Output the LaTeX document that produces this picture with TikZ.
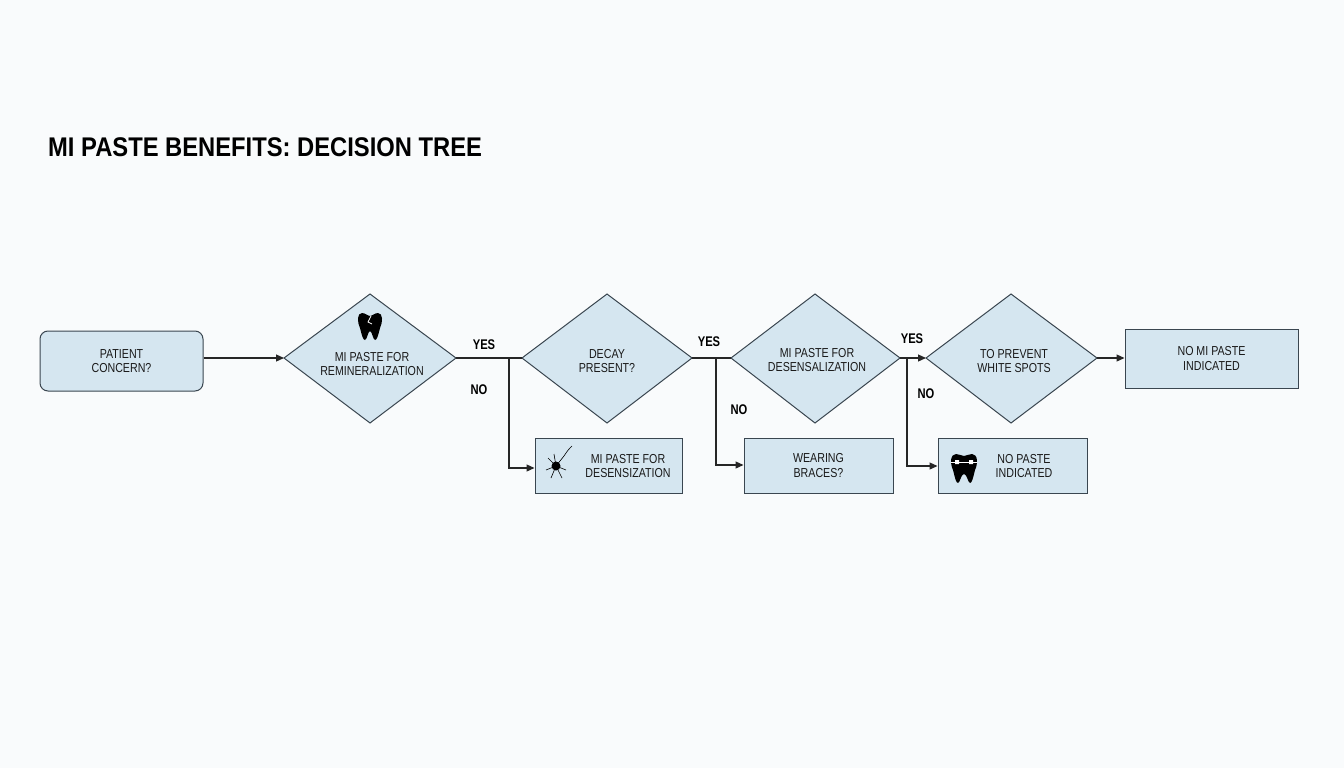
\documentclass[tikz,border=0pt]{standalone}
\usepackage{fontspec}
\setmainfont{Liberation Sans}
\usetikzlibrary{shapes.geometric,arrows.meta}
\definecolor{fillb}{HTML}{D5E6F0}
\definecolor{edge}{HTML}{3A4650}
\definecolor{bg}{HTML}{F9FBFC}
\begin{document}
\begin{tikzpicture}[x=1pt,y=-1pt,
  lbl/.style={font=\fontsize{13}{14.5}\selectfont, align=center, text=black!90, xscale=0.82},
  boxn/.style={draw=edge, fill=fillb, line width=1pt, minimum width=#1, minimum height=55pt, inner sep=0pt},
  dia/.style={draw=edge, fill=fillb, line width=1pt},
  yn/.style={font=\fontsize{14}{14}\selectfont\bfseries, xscale=0.8},
  conn/.style={draw=black!85, line width=1.2pt},
  arr/.style={conn, -{Triangle[length=8pt,width=7pt]}}]
\useasboundingbox[fill=bg] (0,0) rectangle (1344,768);
\node[anchor=west, font=\fontsize{27}{27}\selectfont\bfseries, xscale=0.88, inner sep=0pt] (title) at (48,147) {MI PASTE BENEFITS: DECISION TREE};
% nodes
\node[boxn=163pt, minimum height=60pt, rounded corners=8pt] (p) at (121.5,361) {};
\node[lbl] at (p) {PATIENT\\CONCERN?};
\path[dia] (284,358) -- (370,294) -- (456,358) -- (370,423) -- cycle;
\coordinate (d1w) at (284,358); \coordinate (d1e) at (456,358);
\node[lbl] (t1) at (372,364) {MI PASTE FOR\\REMINERALIZATION};
\path[dia] (522,358) -- (607,294) -- (692,358) -- (607,423) -- cycle;
\coordinate (d2w) at (522,358); \coordinate (d2e) at (692,358);
\node[lbl] (t2) at (607,361) {DECAY\\PRESENT?};
\path[dia] (731,358) -- (815,294) -- (900,358) -- (815,423) -- cycle;
\coordinate (d3w) at (731,358); \coordinate (d3e) at (900,358);
\node[lbl] (t3) at (817,360) {MI PASTE FOR\\DESENSALIZATION};
\path[dia] (926,358) -- (1011,294) -- (1097,358) -- (1011,423) -- cycle;
\coordinate (d4w) at (926,358); \coordinate (d4e) at (1097,358);
\node[lbl] (t4) at (1014,361) {TO PREVENT\\WHITE SPOTS};
\node[boxn=173pt, minimum height=59pt] (nomi) at (1211.5,358.5) {};
\node[lbl] at (nomi) {NO MI PASTE\\INDICATED};
\node[boxn=147pt] (des) at (608.5,465.5) {};
\node[lbl] at (628,466) {MI PASTE FOR\\DESENSIZATION};
\node[boxn=149pt] (brc) at (818.5,465.5) {};
\node[lbl] at (brc) {WEARING\\BRACES?};
\node[boxn=149pt] (nop) at (1012.5,465.5) {};
\node[lbl] at (1024,466) {NO PASTE\\INDICATED};
% icons
\fill[black] (362,313) .. controls (357,313) and (357,322) .. (360,328) .. controls (362,336) and (363,340) .. (365,340) .. controls (367,340) and (368,331) .. (370,331) .. controls (372,331) and (373,340) .. (375,340) .. controls (377,340) and (378,336) .. (380,328) .. controls (383,322) and (383,313) .. (378,313) .. controls (375,313) and (372,316) .. (370,316) .. controls (368,316) and (365,313) .. (362,313) -- cycle;
\draw[white, line width=0.8pt] (371,316) -- (368,322) -- (372,324);
\fill[black] (556,466) circle (4.5pt);
\draw[black, line width=0.6pt] (556,466) -- (548,458) (556,466) -- (564,456) .. controls (568,450) .. (572,446) (556,466) -- (546,470) (556,466) -- (551,478) (556,466) -- (562,478) (556,466) -- (566,470) (556,466) -- (554,454);
\fill[black] (956,454) .. controls (950,454) and (950,464) .. (953,470) .. controls (955,478) and (956,483) .. (958,483) .. controls (960,483) and (961,474) .. (964,474) .. controls (967,474) and (968,483) .. (970,483) .. controls (972,483) and (973,478) .. (975,470) .. controls (978,464) and (978,454) .. (972,454) .. controls (969,454) and (966,456) .. (964,456) .. controls (962,456) and (959,454) .. (956,454) -- cycle;
\draw[white, line width=0.8pt] (951,462) -- (977,462);
\fill[white] (955,460) rectangle (959,464) (969,460) rectangle (973,464);
% connectors
\draw[arr] (p.east |- d1w) -- (d1w);
\draw[conn] (d1e) -- (d2w);
\draw[conn] (d2e) -- (d3w);
\draw[arr] (d3e) -- (d4w);
\draw[arr] (d4e) -- (nomi.west |- d4e);
\coordinate (b1) at (509,358); \coordinate (b2) at (716,358); \coordinate (b3) at (907,358);
\draw[arr] (b1) |- (des.west |- 0,468);
\draw[arr] (b2) |- (brc.west |- 0,465);
\draw[arr] (b3) |- (nop.west |- 0,466);
\node[yn] at (484,345) {YES}; \node[yn] at (479,390) {NO};
\node[yn] at (709,342) {YES}; \node[yn] at (739,410) {NO};
\node[yn] at (912,339) {YES}; \node[yn] at (926,394) {NO};
\end{tikzpicture}
\end{document}
